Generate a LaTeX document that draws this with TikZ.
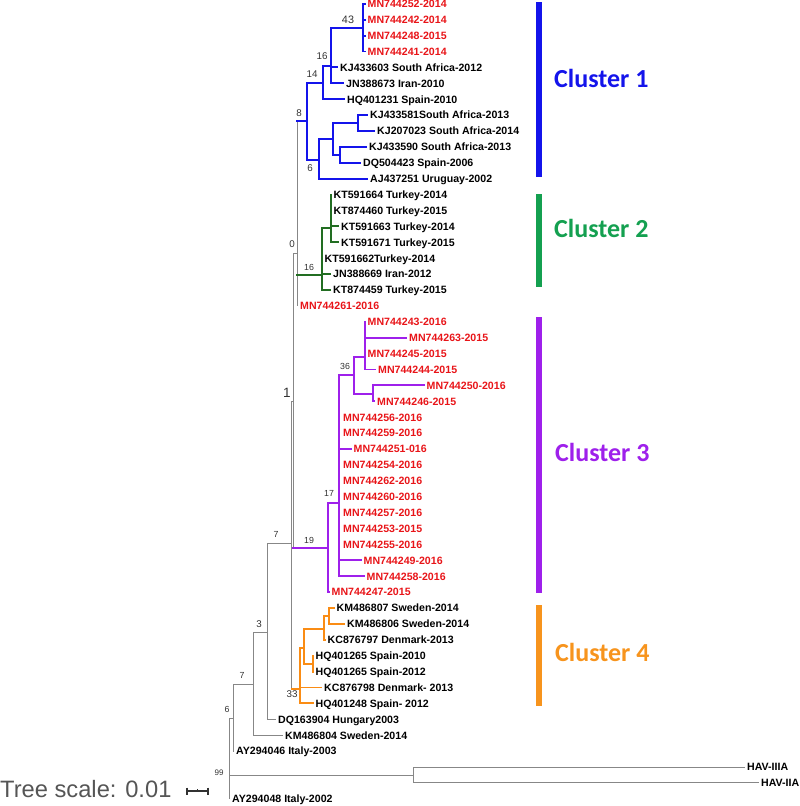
\documentclass[tikz,border=0pt]{standalone}
\usepackage{fontspec}
\setmainfont{Liberation Sans}
\newfontfamily\clfont{Carlito}
\definecolor{c1}{RGB}{20,20,235}
\definecolor{c2line}{RGB}{34,110,34}
\definecolor{c2}{RGB}{20,160,80}
\definecolor{c3}{RGB}{158,32,235}
\definecolor{c4}{RGB}{250,140,20}
\definecolor{c4bar}{RGB}{247,148,29}
\definecolor{labred}{RGB}{232,20,24}
\definecolor{tgray}{RGB}{135,135,135}
\definecolor{bsgray}{RGB}{50,50,50}
\definecolor{scgray}{RGB}{85,85,85}
\begin{document}
\begin{tikzpicture}[x=1pt,y=-1pt,
  gb/.style={draw=tgray, line width=0.9pt, line cap=rect},
  b1/.style={draw=c1, line width=1.9pt, line cap=rect},
  b2/.style={draw=c2line, line width=1.9pt, line cap=rect},
  b3/.style={draw=c3, line width=1.9pt, line cap=rect},
  b4/.style={draw=c4, line width=1.9pt, line cap=rect},
  lab/.style={anchor=base west, inner sep=0pt, xshift=2.5pt, yshift=-3.8pt, font=\fontsize{10.6}{12}\selectfont\bfseries},
  rlab/.style={lab, text=labred},
  bs/.style={inner sep=0pt, text=bsgray, font=\fontsize{9.8}{11}\selectfont},
  bss/.style={inner sep=0pt, text=bsgray, font=\fontsize{8.8}{10}\selectfont},
  clbar/.style={line width=6pt},
  cltext/.style={anchor=base west, inner sep=0pt, font=\clfont\fontsize{26}{30}\selectfont\bfseries}]
\useasboundingbox (0,0) rectangle (800,806);

% ---------- internal nodes ----------
\coordinate (A) at (363,28);
\coordinate (B) at (331,66);
\coordinate (C) at (323,83);
\coordinate (D) at (307,121);
\coordinate (E) at (319,160);
\coordinate (F) at (333,139);
\coordinate (G) at (358,123);
\coordinate (H) at (340,155);
\coordinate (L) at (297,253);
\coordinate (J) at (322,275);
\coordinate (I) at (331,228);
\coordinate (S) at (293,401);
\coordinate (Q) at (291.5,543);
\coordinate (T) at (328,548);
\coordinate (U) at (339,503);
\coordinate (V) at (354,375);
\coordinate (W) at (365,357);
\coordinate (X) at (373,394);
\coordinate (Y) at (300,689);
\coordinate (AC) at (304,648);
\coordinate (AD) at (313,664);
\coordinate (AB) at (324,629);
\coordinate (AA) at (329,616);
\coordinate (P) at (267,632);
\coordinate (O) at (253,684);
\coordinate (N) at (233,718);
\coordinate (R) at (229,759);
\coordinate (HV) at (413,775);

% ---------- leaf tips ----------
\coordinate (l1) at (365,3.8);
\coordinate (l2) at (365,19.7);
\coordinate (l3) at (365,35.6);
\coordinate (l4) at (365,51.5);
\coordinate (l5) at (337.5,67.4);
\coordinate (l6) at (343.5,83.3);
\coordinate (l7) at (344.5,99.2);
\coordinate (l8) at (367.5,115.1);
\coordinate (l9) at (374.5,131.0);
\coordinate (l10) at (366.5,146.9);
\coordinate (l11) at (360.5,162.8);
\coordinate (l12) at (367.5,178.7);
\coordinate (l13) at (331,194.6);
\coordinate (l14) at (331,210.5);
\coordinate (l15) at (338.5,226.4);
\coordinate (l16) at (338.5,242.3);
\coordinate (l17) at (322,258.2);
\coordinate (l18) at (330.5,274.1);
\coordinate (l19) at (330.5,290.0);
\coordinate (l20) at (297.5,305.9);
\coordinate (l21) at (365,321.8);
\coordinate (l22) at (406.5,337.7);
\coordinate (l23) at (365,353.6);
\coordinate (l24) at (375.5,369.5);
\coordinate (l25) at (424,385.4);
\coordinate (l26) at (374.5,401.3);
\coordinate (l27) at (340.5,417.2);
\coordinate (l28) at (340.5,433.1);
\coordinate (l29) at (351,449.0);
\coordinate (l30) at (340.5,464.9);
\coordinate (l31) at (340.5,480.8);
\coordinate (l32) at (340.5,496.7);
\coordinate (l33) at (340.5,512.6);
\coordinate (l34) at (340.5,528.5);
\coordinate (l35) at (340.5,544.4);
\coordinate (l36) at (361,560.3);
\coordinate (l37) at (364,576.2);
\coordinate (l38) at (329,592.1);
\coordinate (l39) at (334,608.0);
\coordinate (l40) at (344.5,623.9);
\coordinate (l41) at (325,639.8);
\coordinate (l42) at (313,655.7);
\coordinate (l43) at (313,671.6);
\coordinate (l44) at (321.5,687.5);
\coordinate (l45) at (313,703.4);
\coordinate (l46) at (275.5,719.3);
\coordinate (l47) at (282.5,735.2);
\coordinate (l48) at (233.5,751.1);
\coordinate (l49) at (744.5,767.0);
\coordinate (l50) at (758.5,782.9);
\coordinate (l51) at (229.5,798.8);

% ---------- gray backbone ----------
\draw[gb] (R |- N) -- (R |- l51);
\draw[gb] (R |- N) -- (N);
\draw[gb] (R |- HV) -- (HV);
\draw[gb] (R |- l51) -- (l51);
\draw[gb] (HV |- l49) -- (HV |- l50);
\draw[gb] (HV |- l49) -- (l49);
\draw[gb] (HV |- l50) -- (l50);
\draw[gb] (N |- O) -- (N |- l48);
\draw[gb] (N |- O) -- (O);
\draw[gb] (N |- l48) -- (l48);
\draw[gb] (O |- P) -- (O |- l47);
\draw[gb] (O |- P) -- (P);
\draw[gb] (O |- l47) -- (l47);
\draw[gb] (P |- Q) -- (P |- l46);
\draw[gb] (P |- Q) -- (Q);
\draw[gb] (P |- l46) -- (l46);
\draw[gb] (Q |- S) -- (Q |- Y);
\draw[gb] (Q |- S) -- (S);
\draw[gb] (S |- L) -- (S |- T);
\draw[gb] (S |- L) -- (L);
\draw[gb] (L |- D) -- (L |- l20);
\draw[gb] (L |- l20) -- (l20);

% ---------- cluster 1 (blue) ----------
\draw[b1] (L |- D) -- (D);
\draw[b1] (D |- C) -- (D |- E);
\draw[b1] (D |- C) -- (C);
\draw[b1] (D |- E) -- (E);
\draw[b1] (C |- B) -- (C |- l7);
\draw[b1] (C |- B) -- (B);
\draw[b1] (C |- l7) -- (l7);
\draw[b1] (B |- A) -- (B |- l6);
\draw[b1] (B |- A) -- (A);
\draw[b1] (B |- l5) -- (l5);
\draw[b1] (B |- l6) -- (l6);
\draw[b1] (A |- l1) -- (A |- l4);
\draw[b1] (A |- l1) -- (l1);
\draw[b1] (A |- l2) -- (l2);
\draw[b1] (A |- l3) -- (l3);
\draw[b1] (A |- l4) -- (l4);
\draw[b1] (E |- F) -- (E |- l12);
\draw[b1] (E |- F) -- (F);
\draw[b1] (E |- l12) -- (l12);
\draw[b1] (F |- G) -- (F |- H);
\draw[b1] (F |- G) -- (G);
\draw[b1] (F |- H) -- (H);
\draw[b1] (G |- l8) -- (G |- l9);
\draw[b1] (G |- l8) -- (l8);
\draw[b1] (G |- l9) -- (l9);
\draw[b1] (H |- l10) -- (H |- l11);
\draw[b1] (H |- l10) -- (l10);
\draw[b1] (H |- l11) -- (l11);

% ---------- cluster 2 (green) ----------
\draw[b2] (L |- J) -- (J);
\draw[b2] (J |- I) -- (J |- l19);
\draw[b2] (J |- I) -- (I);
\draw[b2] (J |- l18) -- (l18);
\draw[b2] (J |- l19) -- (l19);
\draw[b2] (I |- l13) -- (I |- l16);
\draw[b2] (I |- l15) -- (l15);
\draw[b2] (I |- l16) -- (l16);

% ---------- cluster 3 (purple) ----------
\draw[b3] (S |- T) -- (T);
\draw[b3] (T |- U) -- (T |- l38);
\draw[b3] (T |- U) -- (U);
\draw[b3] (T |- l38) -- (l38);
\draw[b3] (U |- V) -- (U |- l37);
\draw[b3] (U |- V) -- (V);
\draw[b3] (U |- l29) -- (l29);
\draw[b3] (U |- l36) -- (l36);
\draw[b3] (U |- l37) -- (l37);
\draw[b3] (V |- W) -- (V |- X);
\draw[b3] (V |- W) -- (W);
\draw[b3] (V |- X) -- (X);
\draw[b3] (W |- l21) -- (W |- l24);
\draw[b3] (W |- l22) -- (l22);
\draw[b3] (W |- l24) -- (l24);
\draw[b3] (X |- l25) -- (X |- l26);
\draw[b3] (X |- l25) -- (l25);
\draw[b3] (X |- l26) -- (l26);

% ---------- cluster 4 (orange) ----------
\draw[b4] (Q |- Y) -- (Y);
\draw[b4] (Y |- AC) -- (Y |- l45);
\draw[b4] (Y |- AC) -- (AC);
\draw[b4] (Y |- l44) -- (l44);
\draw[b4] (Y |- l45) -- (l45);
\draw[b4] (AC |- AB) -- (AC |- AD);
\draw[b4] (AC |- AB) -- (AB);
\draw[b4] (AC |- AD) -- (AD);
\draw[b4] (AD |- l42) -- (AD |- l43);
\draw[b4] (AB |- AA) -- (AB |- l41);
\draw[b4] (AB |- AA) -- (AA);
\draw[b4] (AB |- l41) -- (l41);
\draw[b4] (AA |- l39) -- (AA |- l40);
\draw[b4] (AA |- l39) -- (l39);
\draw[b4] (AA |- l40) -- (l40);

% ---------- leaf labels ----------
\node[rlab] (t1) at (l1) {MN744252-2014};
\node[rlab] (t2) at (l2) {MN744242-2014};
\node[rlab] (t3) at (l3) {MN744248-2015};
\node[rlab] (t4) at (l4) {MN744241-2014};
\node[lab] (t5) at (l5) {KJ433603 South Africa-2012};
\node[lab] (t6) at (l6) {JN388673 Iran-2010};
\node[lab] (t7) at (l7) {HQ401231 Spain-2010};
\node[lab] (t8) at (l8) {KJ433581South Africa-2013};
\node[lab] (t9) at (l9) {KJ207023 South Africa-2014};
\node[lab] (t10) at (l10) {KJ433590 South Africa-2013};
\node[lab] (t11) at (l11) {DQ504423 Spain-2006};
\node[lab] (t12) at (l12) {AJ437251 Uruguay-2002};
\node[lab] (t13) at (l13) {KT591664 Turkey-2014};
\node[lab] (t14) at (l14) {KT874460 Turkey-2015};
\node[lab] (t15) at (l15) {KT591663 Turkey-2014};
\node[lab] (t16) at (l16) {KT591671 Turkey-2015};
\node[lab] (t17) at (l17) {KT591662Turkey-2014};
\node[lab] (t18) at (l18) {JN388669 Iran-2012};
\node[lab] (t19) at (l19) {KT874459 Turkey-2015};
\node[rlab] (t20) at (l20) {MN744261-2016};
\node[rlab] (t21) at (l21) {MN744243-2016};
\node[rlab] (t22) at (l22) {MN744263-2015};
\node[rlab] (t23) at (l23) {MN744245-2015};
\node[rlab] (t24) at (l24) {MN744244-2015};
\node[rlab] (t25) at (l25) {MN744250-2016};
\node[rlab] (t26) at (l26) {MN744246-2015};
\node[rlab] (t27) at (l27) {MN744256-2016};
\node[rlab] (t28) at (l28) {MN744259-2016};
\node[rlab] (t29) at (l29) {MN744251-016};
\node[rlab] (t30) at (l30) {MN744254-2016};
\node[rlab] (t31) at (l31) {MN744262-2016};
\node[rlab] (t32) at (l32) {MN744260-2016};
\node[rlab] (t33) at (l33) {MN744257-2016};
\node[rlab] (t34) at (l34) {MN744253-2015};
\node[rlab] (t35) at (l35) {MN744255-2016};
\node[rlab] (t36) at (l36) {MN744249-2016};
\node[rlab] (t37) at (l37) {MN744258-2016};
\node[rlab] (t38) at (l38) {MN744247-2015};
\node[lab] (t39) at (l39) {KM486807 Sweden-2014};
\node[lab] (t40) at (l40) {KM486806 Sweden-2014};
\node[lab] (t41) at (l41) {KC876797 Denmark-2013};
\node[lab] (t42) at (l42) {HQ401265 Spain-2010};
\node[lab] (t43) at (l43) {HQ401265 Spain-2012};
\node[lab] (t44) at (l44) {KC876798 Denmark- 2013};
\node[lab] (t45) at (l45) {HQ401248 Spain- 2012};
\node[lab] (t46) at (l46) {DQ163904 Hungary2003};
\node[lab] (t47) at (l47) {KM486804 Sweden-2014};
\node[lab] (t48) at (l48) {AY294046 Italy-2003};
\node[lab] (t49) at (l49) {HAV-IIIA};
\node[lab] (t50) at (l50) {HAV-IIA};
\node[lab] (t51) at (l51) {AY294048 Italy-2002};

% ---------- support values ----------
\node[bs, font=\fontsize{10.8}{12}\selectfont] (s43) at (348,20) {43};
\node[bs] (s16a) at (322,56) {16};
\node[bs] (s14) at (312,74) {14};
\node[bs] (s8) at (299,113) {8};
\node[bs] (s6a) at (310,168) {6};
\node[bs] (s0) at (292,244) {0};
\node[bss] (s16b) at (309,267) {16};
\node[bs, font=\fontsize{13.5}{15}\selectfont] (s1) at (287,393) {1};
\node[bss] (s36) at (345,366) {36};
\node[bss] (s17) at (329,493) {17};
\node[bss] (s19) at (309,540) {19};
\node[bss] (s7a) at (276,534) {7};
\node[bs] (s3) at (259,624) {3};
\node[bs] (s33) at (292,694) {33};
\node[bss] (s7b) at (242,675) {7};
\node[bss] (s6b) at (227,709) {6};
\node[bss, font=\fontsize{8}{9}\selectfont] (s99) at (219,773) {99};

% ---------- cluster bars and names ----------
\draw[clbar, c1] (539,2) -- (539,177);
\draw[clbar, c2] (539,194) -- (539,287);
\draw[clbar, c3] (539,317) -- (539,593);
\draw[clbar, c4bar] (539,605) -- (539,706);
\node[cltext, text=c1] (k1) at (554,87) {Cluster 1};
\node[cltext, text=c2] (k2) at (554,237) {Cluster 2};
\node[cltext, text=c3] (k3) at (555,461) {Cluster 3};
\node[cltext, text=c4bar] (k4) at (555,661) {Cluster 4};

% ---------- tree scale ----------
\node[anchor=base west, inner sep=0pt, text=scgray, font=\fontsize{23.7}{27}\selectfont] (ts) at (0,797.5) {Tree scale: 0.01};
\coordinate (sb1) at (187,791);
\coordinate (sb2) at (208,791);
\coordinate (sbm) at (197.5,791);
\draw[draw=bsgray, line width=1.1pt] (sb1) -- (sb2);
\draw[draw=bsgray, line width=1.1pt] ([yshift=3.5pt]sb1) -- ([yshift=-3.5pt]sb1);
\draw[draw=bsgray, line width=1.1pt] ([yshift=3.5pt]sb2) -- ([yshift=-3.5pt]sb2);
\draw[draw=bsgray, line width=0.8pt] ([yshift=2pt]sbm) -- (sbm);
\end{tikzpicture}
\end{document}
